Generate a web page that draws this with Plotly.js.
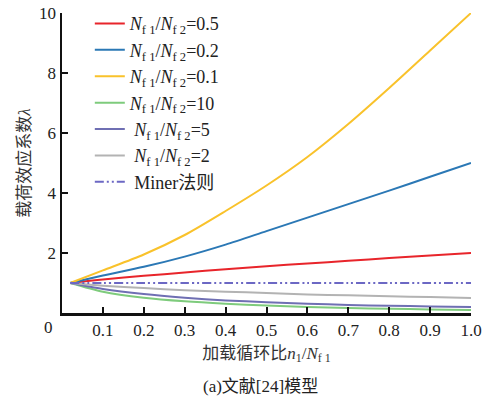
<!DOCTYPE html>
<html>
<head>
<meta charset="utf-8">
<script src="https://cdn.plot.ly/plotly-3.0.1.min.js"></script>
<style>html,body{margin:0;padding:0;background:#fff;}#chart{width:487px;height:403px;}</style>
</head>
<body>
<div id="chart"></div>
<script>
const xVals = [0.02, 0.1, 0.2, 0.3, 0.4, 0.5, 0.6, 0.7, 0.8, 0.9, 1.0];
const r05 = [1.0, 1.12, 1.24, 1.35, 1.46, 1.56, 1.65, 1.74, 1.83, 1.92, 2.0];
const r02 = [1.0, 1.25, 1.54, 1.88, 2.28, 2.73, 3.18, 3.63, 4.08, 4.54, 5.0];
const r01 = [1.0, 1.42, 1.95, 2.6, 3.4, 4.25, 5.2, 6.3, 7.5, 8.75, 10.0];
const r10 = [1.0, 0.71, 0.51, 0.39, 0.31, 0.25, 0.2, 0.165, 0.14, 0.12, 0.1];
const r5  = [1.0, 0.8, 0.63, 0.51, 0.42, 0.36, 0.31, 0.27, 0.24, 0.22, 0.2];
const r2  = [1.0, 0.91, 0.83, 0.76, 0.71, 0.67, 0.62, 0.59, 0.56, 0.53, 0.5];
const miner = [1, 1, 1, 1, 1, 1, 1, 1, 1, 1, 1];

const seriesNames = [
  "<i>N</i><sub>f 1</sub>/<i>N</i><sub>f 2</sub>=0.5",
  "<i>N</i><sub>f 1</sub>/<i>N</i><sub>f 2</sub>=0.2",
  "<i>N</i><sub>f 1</sub>/<i>N</i><sub>f 2</sub>=0.1",
  "<i>N</i><sub>f 1</sub>/<i>N</i><sub>f 2</sub>=10",
  "&nbsp;<i>N</i><sub>f 1</sub>/<i>N</i><sub>f 2</sub>=5",
  "&nbsp;<i>N</i><sub>f 1</sub>/<i>N</i><sub>f 2</sub>=2",
  "&nbsp;Miner法则"
];
const seriesData = [r05, r02, r01, r10, r5, r2, miner];
const colors = ["#e8252b", "#2b78b5", "#f9c22b", "#7ecb7c", "#6f6fb3", "#b3b3b3", "#6c68c4"];

const xTickVals = [0.1, 0.2, 0.3, 0.4, 0.5, 0.6, 0.7, 0.8, 0.9, 1.0];
const xTickText = ["0.1", "0.2", "0.3", "0.4", "0.5", "0.6", "0.7", "0.8", "0.9", "1.0"];
const yTickVals = [2, 4, 6, 8, 10];
const yTickText = ["2", "4", "6", "8", "10"];

const FONT = "'Liberation Serif', 'Times New Roman', 'Noto Sans CJK SC', serif";

const traces = seriesData.map((y, i) => ({
  x: xVals, y: y, type: "scatter", mode: "lines",
  name: seriesNames[i],
  line: {color: colors[i], width: 2, dash: i === 6 ? "9px,3px,2px,3px,2px,3px" : "solid", shape: "spline", smoothing: 0.8}
}));

const layout = {
  width: 487, height: 403,
  margin: {l: 62, r: 16, t: 13, b: 90, autoexpand: false},
  paper_bgcolor: "#fff", plot_bgcolor: "#fff",
  font: {family: FONT, size: 17, color: "#222"},
  showlegend: true,
  legend: {x: 0.068, y: 0.987, yref: "container", xanchor: "left", yanchor: "top", bgcolor: "rgba(0,0,0,0)",
           font: {family: FONT, size: 18, color: "#222"}, tracegroupgap: 0},
  xaxis: {range: [0, 1], tickvals: xTickVals, ticktext: xTickText, ticks: "inside", ticklen: 6,
          tickwidth: 2, tickcolor: "#111", showline: true, linecolor: "#111", linewidth: 2.5,
          showgrid: false, zeroline: false, fixedrange: true,
          tickfont: {family: FONT, size: 17, color: "#222"},
          title: {text: "加载循环比<i>n</i><sub>1</sub>/<i>N</i><sub>f 1</sub>", standoff: 8,
                  font: {family: FONT, size: 17, color: "#333"}}},
  yaxis: {range: [0, 10], tickvals: yTickVals, ticktext: yTickText, ticks: "inside", ticklen: 6,
          tickwidth: 2, tickcolor: "#111", showline: true, linecolor: "#111", linewidth: 2.5,
          showgrid: false, zeroline: false, fixedrange: true,
          tickfont: {family: FONT, size: 17, color: "#222"},
          title: {text: "载荷效应系数<i>λ</i>", standoff: 4,
                  font: {family: FONT, size: 17, color: "#333"}}},
  annotations: [
    {text: "0", xref: "paper", yref: "paper", x: -0.032, y: -0.047, showarrow: false,
     xanchor: "center", yanchor: "middle", font: {family: FONT, size: 17, color: "#222"}},
    {text: "(a)文献[24]模型", xref: "paper", yref: "paper", x: 0.485, y: -0.245, showarrow: false,
     xanchor: "center", yanchor: "middle", font: {family: FONT, size: 17, color: "#222"}}
  ]
};

Plotly.newPlot("chart", traces, layout, {displayModeBar: false, staticPlot: true});
</script>
</body>
</html>
